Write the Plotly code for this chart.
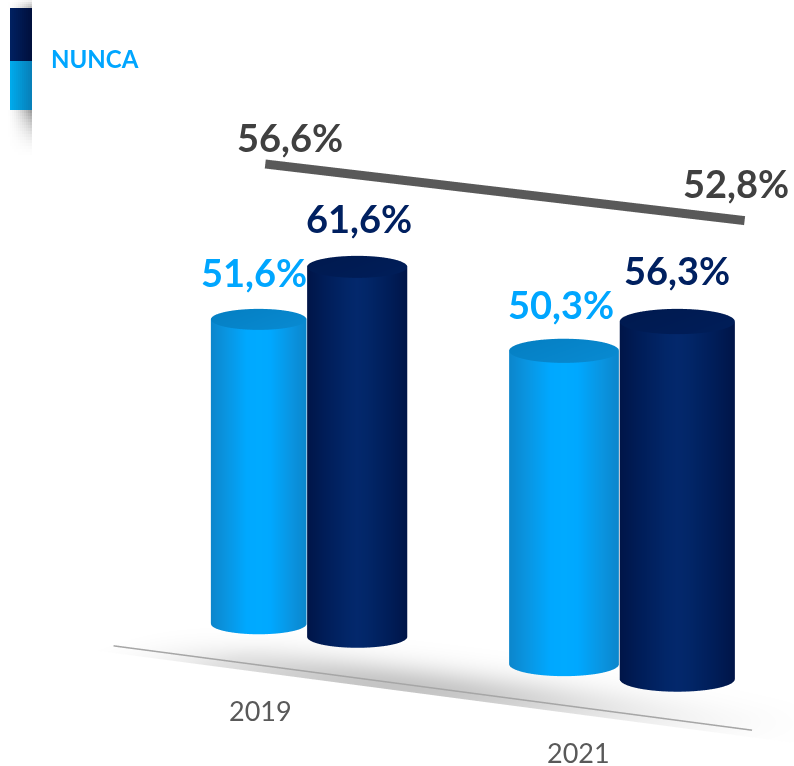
import numpy as np
import plotly.graph_objects as go

YEARS = ["2019", "2021"]
LIGHT = [51.6, 50.3]
DARK = [61.6, 56.3]
TOTAL = [56.6, 52.8]
LEGEND = "NUNCA"

CAT_X = np.array([0.55, 4.36])
OFFSET = np.array([0.6, 0.69])
R = 0.5
TREND_K = 1.378
TREND_X = [0.03, 5.87]
GROUND_X = [-0.81, 6.97]
Z_PX = 0.0632         # world units per percent
XR, YR, ZR = [-1.0, 8.0], [-2.0, 1.5], [-1.0, 90.0]
fmt = lambda v: f"{v:.1f}".replace(".", ",") + "%"
sr = lambda x: 1 + 0.04 * x    # width grows toward the viewer
sz = lambda x: 1 + 0.015 * x   # height grows toward the viewer

AZ, EL = np.deg2rad(31), np.deg2rad(12.7)
VIEW = -np.pi / 2 + AZ
LIGHT_CS = [[0, "#0b86cc"], [0.3, "#0a94e0"], [0.75, "#00a8ff"], [1, "#00aaff"]]
DARK_CS = [[0, "#001548"], [0.35, "#001d58"], [0.8, "#022668"], [1, "#03286c"]]
L_CAP = [[0, "#0580c4"], [1, "#0889d0"]]
D_CAP = [[0, "#001a50"], [1, "#001d58"]]
LIGHTING = dict(ambient=1, diffuse=0, specular=0, fresnel=0, roughness=1)


def cylinder(cx, h, cs, cap):
    th = np.linspace(0, 2 * np.pi, 121)
    r = R * sr(cx)
    X = np.vstack([cx + r * np.cos(th)] * 2)
    Y = np.vstack([r * np.sin(th)] * 2)
    Z = np.vstack([np.zeros_like(th), np.full_like(th, h * sz(cx))])
    C = np.vstack([1 - np.abs(np.sin(th - VIEW))] * 2)
    C[:, np.cos(th - VIEW) < 0] = 0
    side = go.Surface(x=X, y=Y, z=Z, surfacecolor=C, colorscale=cs, cmin=0, cmax=1,
                      showscale=False, lighting=LIGHTING, hoverinfo="skip")
    rr = np.array([0, r])
    X2 = cx + np.outer(rr, np.cos(th))
    Y2 = np.outer(rr, np.sin(th))
    Z2 = np.full_like(X2, h * sz(cx))
    top = go.Surface(x=X2, y=Y2, z=Z2, surfacecolor=np.outer(rr, np.cos(th)), colorscale=cap,
                     showscale=False, lighting=LIGHTING, hoverinfo="skip")
    return [side, top]


fig = go.Figure()

# floor shadow
gx = np.linspace(-1.0, 8.0, 90)
gy = np.linspace(-1.85, 1.4, 50)
GX, GY = np.meshgrid(gx, gy)
S = np.exp(-((GX - 2.7) / 2.7) ** 2) * np.exp(-((GY + 1.7) / 0.95) ** 2)
S = S * np.clip((GX + 1) / 1.5, 0, 1) * np.clip((8 - GX) / 1.5, 0, 1)
fig.add_trace(go.Surface(x=GX, y=GY, z=np.full_like(GX, -0.5), surfacecolor=S,
                         colorscale=[[0, "#ffffff"], [1, "#c4c4c4"]], cmin=0, cmax=1,
                         showscale=False, lighting=LIGHTING, hoverinfo="skip"))

for i in range(2):
    cl, cd = CAT_X[i] - OFFSET[i], CAT_X[i] + OFFSET[i]
    for t in cylinder(cl, LIGHT[i], LIGHT_CS, L_CAP):
        fig.add_trace(t)
    for t in cylinder(cd, DARK[i], DARK_CS, D_CAP):
        fig.add_trace(t)

# ground line
fig.add_trace(go.Scatter3d(x=GROUND_X, y=[-1.68, -1.68], z=[0, 0], mode="lines",
                           line=dict(color="#a6a6a6", width=3), hoverinfo="skip"))
# trend
TZ = [TOTAL[i] * TREND_K * sz(TREND_X[i]) for i in range(2)]
fig.add_trace(go.Scatter3d(x=TREND_X, y=[0, 0], z=TZ, mode="lines",
                           line=dict(color="#595959", width=18), hoverinfo="skip"))

ann = []
for i in range(2):
    cl, cd = CAT_X[i] - OFFSET[i], CAT_X[i] + OFFSET[i]
    ann.append(dict(x=cl, y=0, z=LIGHT[i] * sz(cl), text=fmt(LIGHT[i]), showarrow=False, yshift=47,
                    xshift=[-5, -3][i],
                    font=dict(family="Lato", size=38, color="#00a6ff", weight="bold")))
    ann.append(dict(x=cd, y=0, z=DARK[i] * sz(cd), text=fmt(DARK[i]), showarrow=False,
                    yshift=[49, 52][i], xshift=[2, 0][i],
                    font=dict(family="Lato", size=38, color="#002060", weight="bold")))
    ann.append(dict(x=CAT_X[i], y=-1.68, z=0, text=YEARS[i], showarrow=False,
                    xshift=[35, 41][i], yshift=[-50, -51][i],
                    font=dict(family="Lato", size=27, color="#595959")))
    ann.append(dict(x=TREND_X[i], y=0, z=TZ[i], text=fmt(TOTAL[i]), showarrow=False,
                    xshift=[25, -9][i], yshift=[27, 38][i],
                    font=dict(family="Lato", size=38, color="#404040", weight="bold")))

axis = dict(visible=False, showgrid=False, zeroline=False, showspikes=False, showbackground=False)
W, H = 794, 766

# camera
U = 0.25  # aspect units per world unit
aspect = dict(x=(XR[1] - XR[0]) * U, y=(YR[1] - YR[0]) * U, z=(ZR[1] - ZR[0]) * Z_PX * U)
to_eye = np.array([np.sin(AZ) * np.cos(EL), -np.cos(AZ) * np.cos(EL), np.sin(EL)])
right = np.array([np.cos(AZ), np.sin(AZ), 0.0])
up = np.cross(to_eye, right)
DX, DY = -147 / 400, 22 / 400     # pan in aspect units
center = DX * right + DY * up
DIST = 3.0
eye = center + DIST * to_eye

fig.update_layout(
    width=W, height=H, margin=dict(l=0, r=0, t=0, b=0), paper_bgcolor="white", showlegend=False,
    scene=dict(
        domain=dict(x=[0, 1], y=[0, 1]),
        xaxis=dict(axis, range=XR), yaxis=dict(axis, range=YR), zaxis=dict(axis, range=ZR),
        aspectmode="manual", aspectratio=aspect,
        camera=dict(eye=dict(x=eye[0], y=eye[1], z=eye[2]),
                    center=dict(x=center[0], y=center[1], z=center[2]),
                    up=dict(x=0, y=0, z=1), projection=dict(type="orthographic")),
        annotations=ann,
    ),
)

def px(x): return x / W
def py(y): return 1 - y / H
def cell(x0, x1, y0, y1, fill):
    return dict(type="rect", xref="paper", yref="paper", layer="above", x0=px(x0), x1=px(x1),
                y0=py(y1), y1=py(y0), fillcolor=fill, line=dict(width=0))

shapes = []
# soft shadow round the legend swatches
for k in range(12):
    xa = 8 + 2 * k
    fx = ((xa - 6) / 26) ** 1.6
    for r in range(16):
        ya = 110 + 3 * r
        a = 0.42 * fx * (1 - r / 16) ** 2
        shapes.append(cell(xa, xa + 2, ya, ya + 3, f"rgba(0,0,0,{a:.3f})"))
    for ya in range(0, 8, 2):
        a = 0.3 * fx * (ya + 2) / 8
        shapes.append(cell(xa, xa + 2, ya, ya + 2, f"rgba(0,0,0,{a:.3f})"))
# swatches
for k in range(11):
    f = k / 10
    x0, x1 = 10 + 2 * k, 12 + 2 * k
    c1 = f"rgb(0,{int(32 - 16 * f)},{int(96 - 34 * f)})"
    c2 = f"rgb({int(8 * f)},{int(170 - 42 * f)},{int(235 - 50 * f)})"
    shapes.append(cell(x0, x1, 8, 61, c1))
    shapes.append(cell(x0, x1, 61, 110, c2))
fig.update_layout(shapes=shapes,
                  annotations=[dict(xref="paper", yref="paper", x=px(51), y=py(58), xanchor="left", yanchor="middle",
                                    xshift=-2, text=LEGEND, showarrow=False,
                                    font=dict(family="Lato", size=24, color="#00a6ff", weight="bold"))])
fig.write_html("out.html", config=dict(displayModeBar=False),
               post_script="document.body.style.margin='0';")
